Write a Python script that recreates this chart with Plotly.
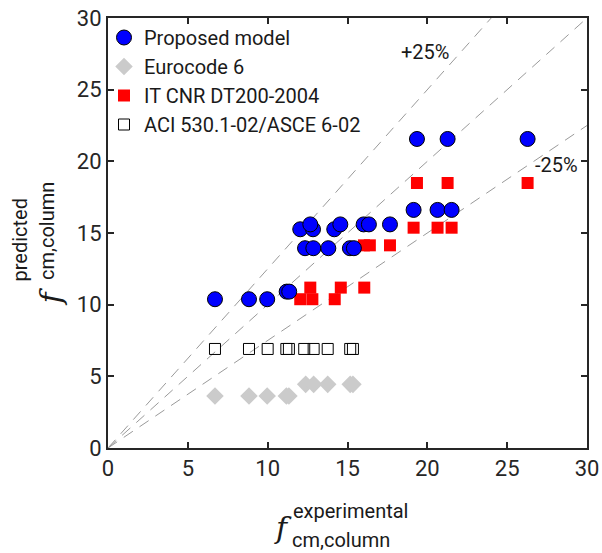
import plotly.graph_objects as go

# ---------------- data ----------------
prop_x = [6.70, 8.83, 9.97, 11.19, 11.35,
          12.04, 12.84, 14.17,
          12.67, 14.55, 16.01, 16.34, 17.66,
          12.34, 12.86, 13.80, 15.15, 15.40,
          19.14, 20.64, 21.52,
          19.35, 21.27, 26.28]
prop_y = [10.38, 10.38, 10.38, 10.91, 10.91,
          15.26, 15.26, 15.26,
          15.60, 15.60, 15.60, 15.60, 15.60,
          13.94, 13.94, 13.94, 13.94, 13.94,
          16.61, 16.61, 16.61,
          21.56, 21.56, 21.56]

ec6_x = [6.70, 8.83, 9.97, 11.17, 11.33, 12.38, 12.88, 13.76, 15.17, 15.34]
ec6_y = [3.63, 3.63, 3.63, 3.63, 3.63, 4.44, 4.44, 4.44, 4.44, 4.44]

cnr_x = [12.04, 12.80, 14.20, 12.67, 14.58, 16.05, 16.03, 16.40, 17.66,
         19.14, 20.64, 21.52, 19.35, 21.27, 26.28]
cnr_y = [10.38, 10.38, 10.38, 11.19, 11.19, 11.19, 14.14, 14.14, 14.14,
         15.37, 15.37, 15.37, 18.49, 18.49, 18.49]

aci_x = [6.70, 8.83, 10.00, 11.17, 11.33, 12.29, 12.88, 13.76, 15.17, 15.34]
aci_y = [6.91] * 10

ratios = [1.25, 1.0, 0.75]
ratio_labels = ["+25%", "", "-25%"]
ticks = [0, 5, 10, 15, 20, 25, 30]
axis_max = 30

# ---------------- figure ----------------
W, H = 602, 553
ml, mr, mt, mb = 108, 15, 18, 105
pw, ph = W - ml - mr, H - mt - mb

def px(xp):
    return (xp - ml) / pw

def py(yp):
    return (H - mb - yp) / ph

fig = go.Figure()

for r in ratios:
    xe = min(axis_max, axis_max / r)
    fig.add_trace(go.Scatter(x=[0, xe], y=[0, xe * r], mode="lines",
                             line=dict(color="#9a9a9a", width=1, dash="11px,8px"),
                             showlegend=False, hoverinfo="skip"))

fig.add_trace(go.Scatter(x=ec6_x, y=ec6_y, mode="markers", name="Eurocode 6",
                         legendrank=2, legendgroup="b",
                         marker=dict(symbol="diamond", size=13.5, color="#cbcbcb",
                                     line=dict(width=0))))
fig.add_trace(go.Scatter(x=aci_x, y=aci_y, mode="markers", name="ACI 530.1-02/ASCE 6-02",
                         legendrank=4, legendgroup="d",
                         marker=dict(symbol="square-open", size=11, color="black",
                                     line=dict(width=1))))
fig.add_trace(go.Scatter(x=cnr_x, y=cnr_y, mode="markers", name="IT CNR DT200-2004",
                         legendrank=3, legendgroup="c",
                         marker=dict(symbol="square", size=12, color="#ff0000",
                                     line=dict(width=0))))
fig.add_trace(go.Scatter(x=prop_x, y=prop_y, mode="markers", name="Proposed model",
                         legendrank=1, legendgroup="a",
                         marker=dict(symbol="circle", size=15, color="#0000ff",
                                     line=dict(width=1, color="black"))))

axis_common = dict(range=[0, axis_max], tickvals=ticks, ticks="inside", ticklen=6,
                   tickwidth=1.5, tickcolor="#262626", showline=True, linecolor="#262626",
                   linewidth=2, mirror="ticks", showgrid=False, zeroline=False,
                   automargin=False,
                   tickfont=dict(family="Roboto", size=22, color="#262626"))
fig.update_xaxes(**axis_common)
fig.update_yaxes(**axis_common)

ann = []
# ratio labels
ann.append(dict(x=19.85, y=27.6, xref="x", yref="y", text=ratio_labels[0], showarrow=False,
                font=dict(family="Roboto", size=20, color="#1a1a1a")))
ann.append(dict(x=28.1, y=19.75, xref="x", yref="y", text=ratio_labels[2], showarrow=False,
                font=dict(family="Roboto", size=20, color="#1a1a1a")))

# x axis title
ann.append(dict(x=px(283), y=py(547), xref="paper", yref="paper", text="<i>f</i>",
                showarrow=False, font=dict(family="DejaVu Serif", size=30, color="#1a1a1a")))
ann.append(dict(x=px(291), y=py(525), xref="paper", yref="paper", text="experimental",
                xanchor="left", showarrow=False,
                font=dict(family="Roboto", size=20, color="#1a1a1a")))
ann.append(dict(x=px(290), y=py(554), xref="paper", yref="paper", text="cm,column",
                xanchor="left", showarrow=False,
                font=dict(family="Roboto", size=20, color="#1a1a1a")))
# y axis title
ann.append(dict(x=px(30), y=py(297), xref="paper", yref="paper", text="<i>f</i>",
                textangle=-90, showarrow=False,
                font=dict(family="DejaVu Serif", size=30, color="#1a1a1a")))
ann.append(dict(x=px(5), y=py(284), xref="paper", yref="paper", text="predicted",
                textangle=-90, yanchor="bottom", showarrow=False,
                font=dict(family="Roboto", size=20, color="#1a1a1a")))
ann.append(dict(x=px(33), y=py(282), xref="paper", yref="paper", text="cm,column",
                textangle=-90, yanchor="bottom", showarrow=False,
                font=dict(family="Roboto", size=20, color="#1a1a1a")))

fig.update_layout(
    width=W, height=H,
    margin=dict(l=ml, r=mr, t=mt, b=mb, autoexpand=False),
    paper_bgcolor="white", plot_bgcolor="white",
    showlegend=True,
    legend=dict(x=px(104), y=py(18), xanchor="left", yanchor="top",
                bgcolor="rgba(0,0,0,0)", borderwidth=0,
                font=dict(family="Roboto", size=20, color="#1a1a1a"),
                traceorder="grouped", tracegroupgap=0, itemwidth=30),
    annotations=ann,
)

fig.write_html("out.html")
